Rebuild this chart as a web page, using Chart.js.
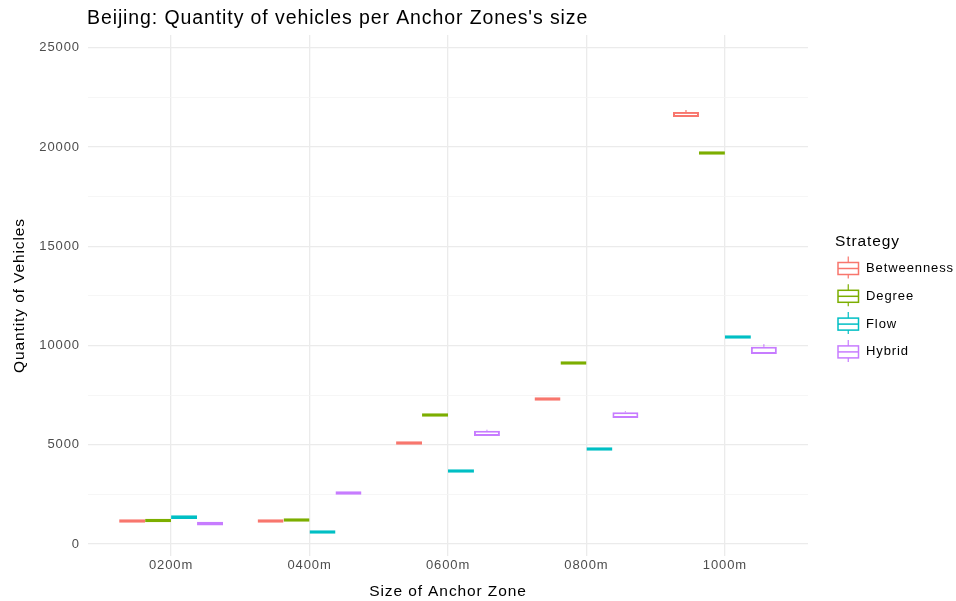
<!DOCTYPE html>
<html>
<head>
<meta charset="utf-8">
<script src="https://cdn.jsdelivr.net/npm/chart.js@4"></script>
<style>
  html, body { margin: 0; padding: 0; background: #ffffff; }
  #wrap { width: 956px; height: 601px; }
</style>
</head>
<body>
<div id="wrap"><canvas id="c" width="956" height="601"></canvas></div>
<script>
// Anchor zone sizes (x categories)
const categories = ['0200m', '0400m', '0600m', '0800m', '1000m'];
const strategies = ['Betweenness', 'Degree', 'Flow', 'Hybrid'];
const colors = ['#F8766D', '#7CAE00', '#00BFC4', '#C77CFF'];

// Box extents (lower / upper hinge) per strategy, vehicles
const betweennessLow  = [1070, 1070, 5000, 7220, 21520];
const betweennessHigh = [1250, 1250, 5180, 7400, 21775];
const degreeLow       = [1095, 1120, 6410, 9035, 19615];
const degreeHigh      = [1275, 1300, 6590, 9215, 19795];
const flowLow         = [1270, 515, 3590, 4700, 10345];
const flowHigh        = [1450, 695, 3770, 4880, 10525];
const hybridLow       = [940, 2480, 5445, 6350, 9580];
const hybridHigh      = [1120, 2660, 5710, 6640, 9945];

// Upper whisker ends (null where the whisker is hidden by the box)
const betweennessWhisker = [null, null, null, null, 21875];
const degreeWhisker      = [null, null, null, null, null];
const flowWhisker        = [null, null, null, null, null];
const hybridWhisker      = [null, null, 5765, 6690, 10065];

// Y axis: gridlines every 2500, labels every 5000
const yTicks = [0, 2500, 5000, 7500, 10000, 12500, 15000, 17500, 20000, 22500, 25000];
const yMin = -600, yMax = 25650, yLabelStep = 5000;

const lows = [betweennessLow, degreeLow, flowLow, hybridLow];
const highs = [betweennessHigh, degreeHigh, flowHigh, hybridHigh];
const whiskers = [betweennessWhisker, degreeWhisker, flowWhisker, hybridWhisker];

const datasets = strategies.map((name, s) => ({
  label: name,
  data: categories.map((c, i) => ({ x: i, y: [lows[s][i], highs[s][i]] })),
  backgroundColor: '#ffffff',
  borderColor: colors[s],
  borderWidth: 2,
  borderSkipped: false,
  barPercentage: 1.0,
  categoryPercentage: 0.75,
  whiskerTop: whiskers[s]
}));

const FONT = '"Liberation Sans", Arial, sans-serif';
const SPACING = '0.9px';

// Slightly open letter spacing for every text on the canvas
const spacingPlugin = {
  id: 'spacing',
  beforeDraw(chart) { chart.ctx.letterSpacing = SPACING; }
};

// Whisker segments above the boxes
const whiskerPlugin = {
  id: 'whiskers',
  afterDatasetsDraw(chart) {
    const ctx = chart.ctx;
    const yScale = chart.scales.y;
    chart.data.datasets.forEach((ds, s) => {
      const meta = chart.getDatasetMeta(s);
      meta.data.forEach((bar, i) => {
        const w = ds.whiskerTop[i];
        if (w == null) return;
        const top = yScale.getPixelForValue(w);
        const boxTop = yScale.getPixelForValue(highs[s][i]);
        ctx.save();
        ctx.strokeStyle = ds.borderColor;
        ctx.lineWidth = 1.2;
        ctx.beginPath();
        ctx.moveTo(bar.x, boxTop);
        ctx.lineTo(bar.x, top);
        ctx.stroke();
        ctx.restore();
      });
    });
  }
};

// Plot title and the "Strategy" key on the right
const decorPlugin = {
  id: 'decor',
  afterDraw(chart) {
    const ctx = chart.ctx;
    const area = chart.chartArea;
    ctx.save();
    ctx.letterSpacing = SPACING;
    ctx.fillStyle = '#000000';
    ctx.font = '19.5px ' + FONT;
    ctx.textBaseline = 'middle';
    ctx.textAlign = 'left';
    ctx.fillText("Beijing: Quantity of vehicles per Anchor Zones's size", area.left - 1, 19);

    // key
    const kx = 835;
    ctx.font = '15.5px ' + FONT;
    ctx.fillText('Strategy', kx, 242);
    ctx.font = '13px ' + FONT;
    strategies.forEach((name, s) => {
      const cy = 268.5 + s * 27.8;
      const bx = 838, bw = 20.5, bh = 12;
      ctx.strokeStyle = colors[s];
      ctx.lineWidth = 1.2;
      ctx.beginPath();
      ctx.moveTo(bx + bw / 2, cy - 12);
      ctx.lineTo(bx + bw / 2, cy - bh / 2);
      ctx.moveTo(bx + bw / 2, cy + bh / 2);
      ctx.lineTo(bx + bw / 2, cy + 10);
      ctx.stroke();
      ctx.lineWidth = 1.5;
      ctx.strokeRect(bx, cy - bh / 2, bw, bh);
      ctx.beginPath();
      ctx.moveTo(bx, cy);
      ctx.lineTo(bx + bw, cy);
      ctx.stroke();
      ctx.fillStyle = '#000000';
      ctx.fillText(name, 866, cy);
    });
    ctx.restore();
  }
};

new Chart(document.getElementById('c'), {
  type: 'bar',
  data: { datasets },
  options: {
    responsive: false,
    animation: false,
    devicePixelRatio: 1,
    layout: { padding: { top: 35, right: 148, bottom: 0, left: 0 } },
    plugins: {
      legend: { display: false },
      tooltip: { enabled: false },
      title: { display: false }
    },
    scales: {
      x: {
        type: 'linear',
        min: -0.6,
        max: 4.6,
        offset: false,
        afterBuildTicks(scale) {
          scale.ticks = categories.map((c, i) => ({ value: i }));
        },
        afterFit(scale) { scale.height = 45; },
        ticks: {
          callback: (v) => categories[v],
          color: '#4d4d4d',
          font: { family: FONT, size: 13 },
          padding: 2,
          maxRotation: 0,
          autoSkip: false
        },
        grid: { color: '#ebebeb', lineWidth: 1.3, drawTicks: false, offset: false },
        border: { display: false },
        title: {
          display: true,
          text: 'Size of Anchor Zone',
          color: '#000000',
          font: { family: FONT, size: 15.5 },
          padding: { top: 4, bottom: 0 }
        }
      },
      y: {
        min: yMin,
        max: yMax,
        afterBuildTicks(scale) {
          scale.ticks = yTicks.map((v) => ({ value: v }));
        },
        afterFit(scale) { scale.width = 88; },
        ticks: {
          autoSkip: false,
          callback: (v) => (v % yLabelStep === 0 ? String(v) : ''),
          color: '#4d4d4d',
          font: { family: FONT, size: 13 },
          padding: 8
        },
        grid: {
          color: (c) => (c.tick && c.tick.value % yLabelStep === 0 ? '#ebebeb' : '#f4f4f4'),
          lineWidth: (c) => (c.tick && c.tick.value % yLabelStep === 0 ? 1.3 : 0.8),
          drawTicks: false
        },
        border: { display: false },
        title: {
          display: true,
          text: 'Quantity of Vehicles',
          color: '#000000',
          font: { family: FONT, size: 15.5 },
          padding: { top: 10, bottom: 4 }
        }
      }
    }
  },
  plugins: [spacingPlugin, whiskerPlugin, decorPlugin]
});
</script>
</body>
</html>
